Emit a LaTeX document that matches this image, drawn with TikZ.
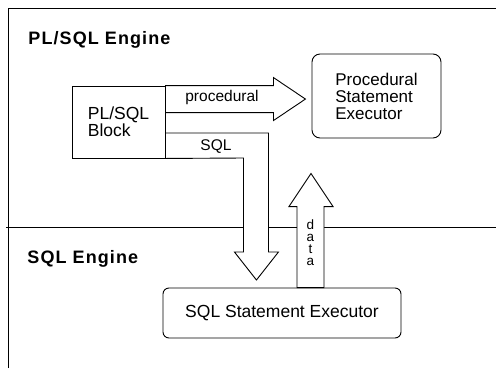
\documentclass[tikz,border=0pt]{standalone}
\usepackage{fontspec}
\setmainfont{Liberation Sans}
\newfontfamily\enginefont[LetterSpace=6]{Liberation Sans}
\usetikzlibrary{positioning}

\begin{document}
\begin{tikzpicture}[x=1pt,y=-1pt,line width=0.9pt,line join=miter]
  \tikzstyle{every node}=[inner sep=0pt]
  \tikzstyle{enginetitle}=[anchor=base west,font=\enginefont\bfseries\fontsize{18}{20}\selectfont]
  \tikzstyle{blockbox}=[draw,rectangle,align=left,minimum width=93pt,minimum height=72pt,font=\fontsize{17.5}{15}\selectfont]
  \tikzstyle{execbox}=[draw,rectangle,align=left,font=\fontsize{17}{17}\selectfont]
  \tikzstyle{fatarrow}=[draw,fill=white]
  \tikzstyle{flowlabel}=[anchor=base,font=\fontsize{15.5}{17}\selectfont]

  \useasboundingbox (0,0) rectangle (496,368);

  % engine frame and divider
  \draw (8,368) -- (8,8) -- (496,8);
  \draw (6,227) -- (496,227);
  \node[enginetitle] (plsqltitle) at (28,44) {PL/SQL Engine};
  \node[enginetitle] (sqltitle) at (27,263) {SQL Engine};

  \node[blockbox] (block) at (118.5,122) {PL/SQL\\Block};
  \node[execbox,rounded corners=8pt,minimum width=129pt,minimum height=84pt] (procexec) at (376.5,96) {Procedural\\Statement\\Executor};
  \node[execbox,rounded corners=6pt,minimum width=238pt,minimum height=50pt,font=\fontsize{17.5}{17}\selectfont] (sqlexec) at (282,313) {SQL Statement Executor};

  % fat arrows
  \draw[fatarrow] (block.north east) -- ++(108,0) -- ++(0,-8) -- ++(32,21.5)
    -- ++(-32,21.5) -- ++(0,-8) -- ++(-108,0) -- cycle;
  \draw[fatarrow] ([yshift=-11pt]block.east) -- ++(103,0) -- ++(0,119) -- ++(10,0)
    -- ++(-22,28) -- ++(-22,-28) -- ++(9,0) -- ++(0,-94) -- (block.south east) -- cycle;
  \draw[fatarrow] ([xshift=15pt]sqlexec.north) -- ++(0,-81) -- ++(-8,0) -- ++(22,-33)
    -- ++(22,33) -- ++(-9,0) -- ++(0,81) -- cycle;

  \node[flowlabel] (proclabel) at (222,101) {procedural};
  \node[flowlabel] (sqllabel) at (216,150) {SQL};
  \node[align=center,font=\fontsize{13.5}{12}\selectfont] (datalabel) at (310.5,242.5) {d\\a\\t\\a};
\end{tikzpicture}
\end{document}
